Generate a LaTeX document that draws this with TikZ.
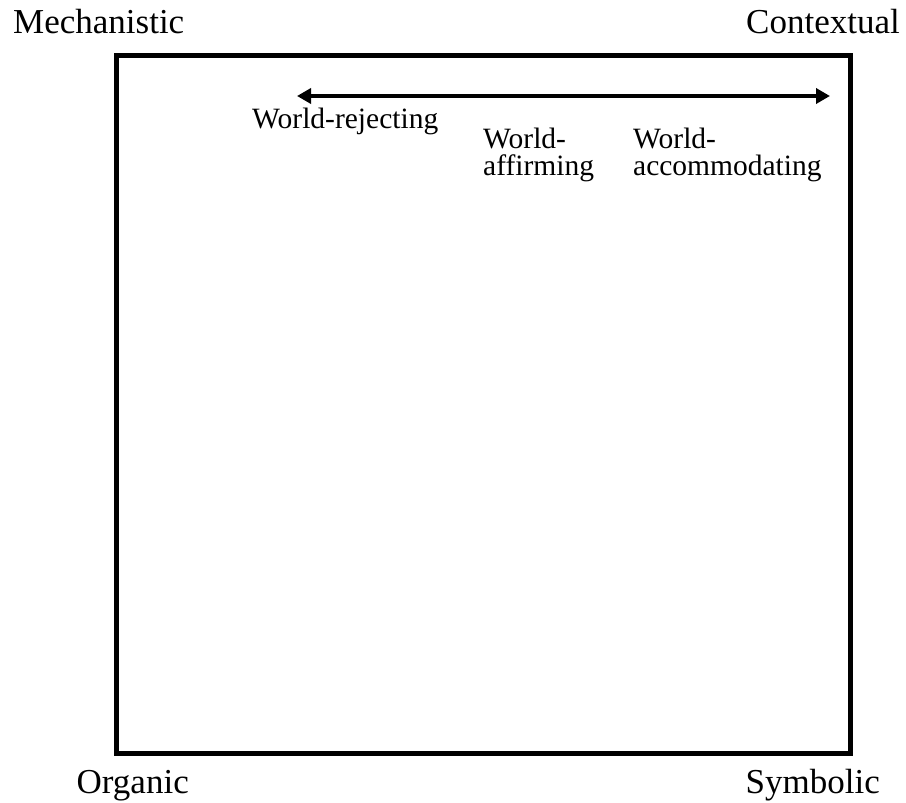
\documentclass[tikz,border=0pt]{standalone}
\usepackage{fontspec}
\setmainfont{Liberation Serif}
\usepackage{tikz}
\usetikzlibrary{arrows.meta,positioning}

\begin{document}
\begin{tikzpicture}[x=1pt,y=-1pt,
  corner/.style={inner sep=0pt,font=\fontsize{35}{38}\selectfont},
  worldlbl/.style={inner sep=0pt,align=left,font=\fontsize{29.5}{27}\selectfont}]
\useasboundingbox (0,0) rectangle (906,803);
% frame
\draw[line width=5pt] (116.5,55.5) rectangle (850.5,753.5);
% corner labels
\node[corner,anchor=base west] (mech) at (13,33) {Mechanistic};
\node[corner,anchor=base east] (ctx) at (900,33) {Contextual};
\node[corner,anchor=base west] (org) at (76.5,793) {Organic};
\node[corner,anchor=base east] (sym) at (880,793) {Symbolic};
% scale of world orientations
\coordinate (left) at (297,96);
\coordinate (right) at (830,96);
\draw[line width=4pt,{Triangle[length=14pt,width=15pt]}-{Triangle[length=14pt,width=15pt]}] (left) -- (right);
\node[worldlbl,anchor=base west] (rej) at (252,128.5) {World-rejecting};
\node[worldlbl,anchor=base west] (aff) at (483,175) {World-\\affirming};
\node[worldlbl,anchor=base west] (acc) at (633,175) {World-\\accommodating};
\end{tikzpicture}
\end{document}
